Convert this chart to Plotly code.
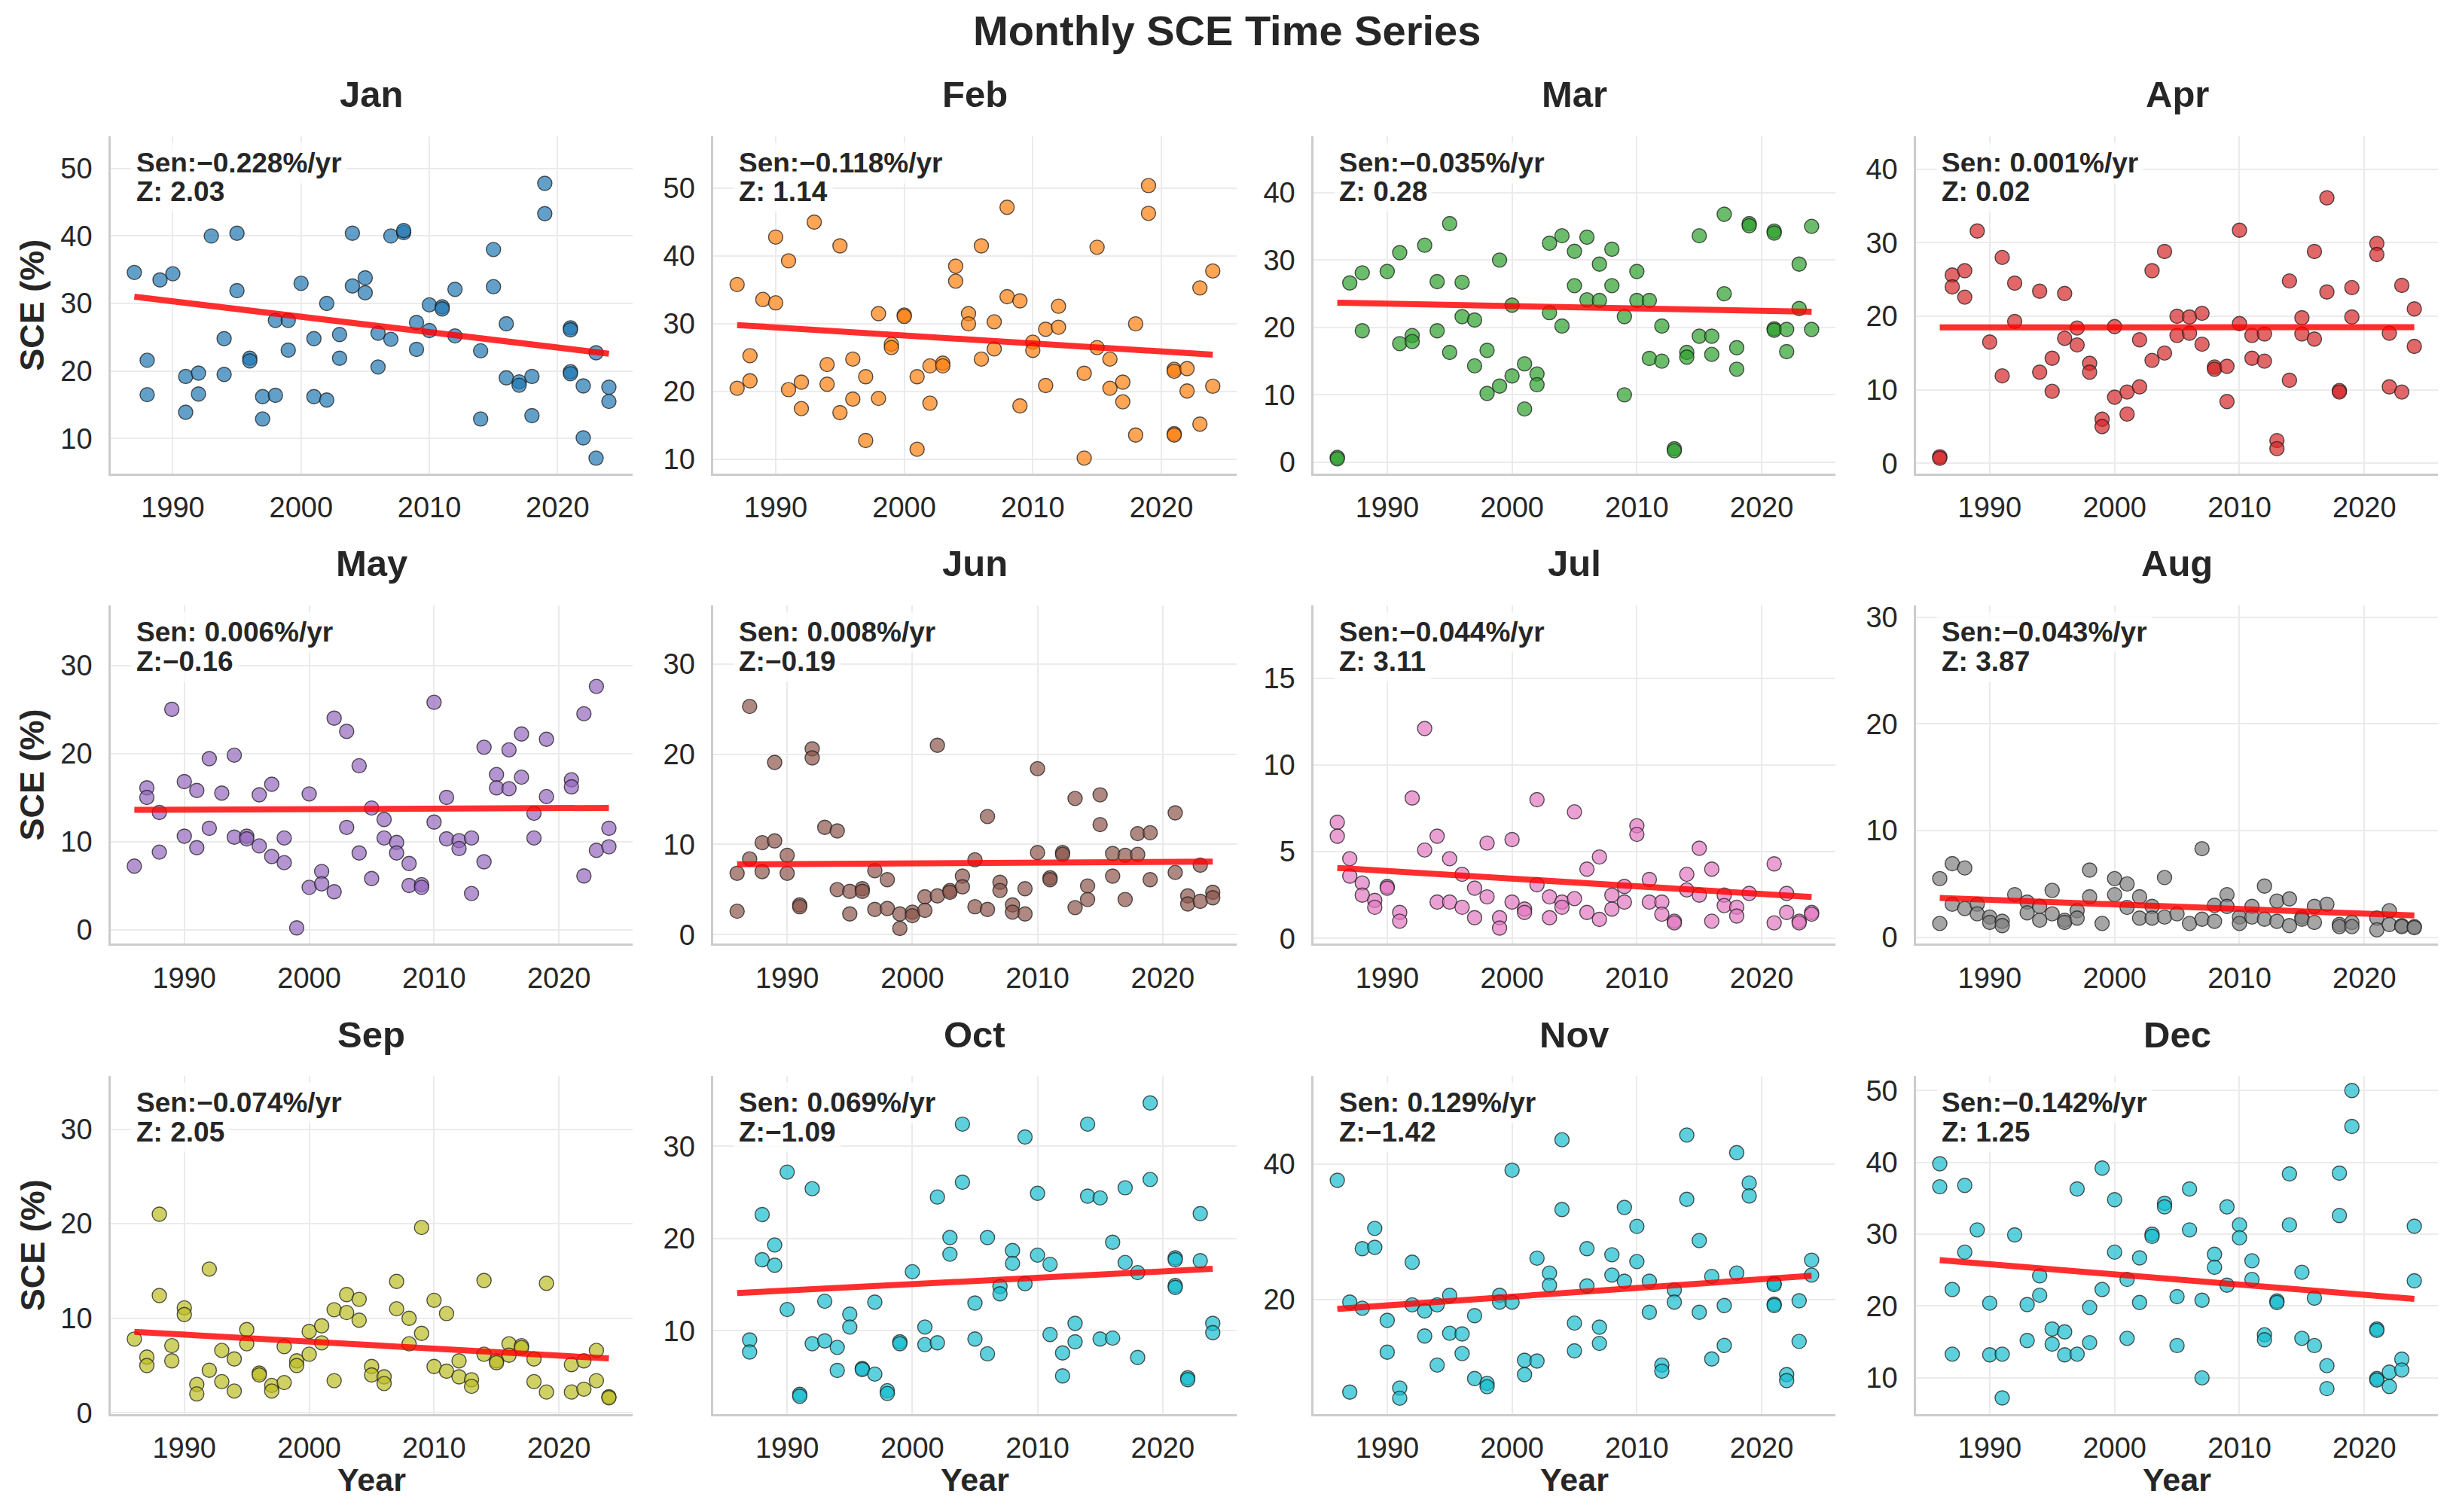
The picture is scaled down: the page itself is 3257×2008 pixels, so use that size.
import numpy as np
import plotly.graph_objects as go

# monthly snow cover extent (%), (year, value) pairs
JAN = [(1987, 34.6), (1988, 21.6), (1988, 16.5), (1989, 33.5), (1990, 34.4),
       (1991, 19.2), (1991, 13.9), (1992, 19.7), (1992, 16.6), (1993, 40.0), (1994, 24.8), (1994, 19.5),
       (1995, 40.4), (1995, 31.9), (1996, 21.9), (1996, 21.5), (1997, 16.2), (1997, 12.9), (1998, 27.5), (1998, 16.4),
       (1999, 27.5), (1999, 23.1), (2000, 33.0), (2001, 24.8), (2001, 16.2), (2002, 30.0), (2002, 15.7), (2003, 25.4),
       (2003, 21.9), (2004, 40.4), (2004, 32.6), (2005, 33.8), (2005, 31.6), (2006, 25.6), (2006, 20.6), (2007, 40.0),
       (2007, 24.7), (2008, 40.5), (2008, 40.8), (2009, 27.2), (2009, 23.2), (2010, 29.8), (2010, 26.0), (2011, 29.5),
       (2011, 29.2), (2012, 32.1), (2012, 25.2), (2014, 23.0), (2014, 12.9), (2015, 38.0), (2015, 32.5), (2016, 27.0),
       (2016, 19.0), (2017, 18.4), (2017, 17.9), (2018, 19.2), (2018, 13.4), (2019, 47.8), (2019, 43.3), (2021, 26.4),
       (2021, 26.1), (2021, 19.9), (2021, 19.6), (2022, 17.8), (2022, 10.1), (2023, 22.7), (2023, 7.1), (2024, 17.6),
       (2024, 15.5)]
FEB = [(1987, 35.8), (1987, 20.5), (1988, 25.3), (1988, 21.6), (1989, 33.6), (1990, 42.8), (1990, 33.1),
       (1991, 39.3), (1991, 20.3), (1992, 21.4), (1992, 17.5), (1993, 45.0), (1994, 24.0), (1994, 21.1), (1995, 41.5),
       (1995, 16.9), (1996, 24.8), (1996, 18.9), (1997, 22.2), (1997, 12.8), (1998, 31.5), (1998, 19.0), (1999, 27.0),
       (1999, 26.5), (2000, 31.3), (2000, 31.1), (2001, 22.2), (2001, 11.5), (2002, 23.8), (2002, 18.3), (2003, 24.2),
       (2003, 23.8), (2004, 38.5), (2004, 36.3), (2005, 31.5), (2005, 30.0), (2006, 41.5), (2006, 24.8), (2007, 30.3),
       (2007, 26.3), (2008, 47.2), (2008, 34.0), (2009, 33.4), (2009, 17.9), (2010, 27.3), (2010, 26.1), (2011, 29.2),
       (2011, 20.9), (2012, 32.6), (2012, 29.5), (2014, 22.7), (2014, 10.2), (2015, 41.3), (2015, 26.5), (2016, 24.8),
       (2016, 20.5), (2017, 21.4), (2017, 18.5), (2018, 30.0), (2018, 13.6), (2019, 50.4), (2019, 46.3), (2021, 23.3),
       (2021, 23.0), (2021, 13.8), (2021, 13.6), (2022, 23.4), (2022, 20.1), (2023, 35.3), (2023, 15.2), (2024, 37.8),
       (2024, 20.8)]
MAR = [(1986, 0.7), (1986, 0.5), (1987, 26.6), (1988, 28.1), (1988, 19.5), (1990, 28.3), (1991, 31.1),
       (1991, 17.6), (1992, 18.8), (1992, 17.9), (1993, 32.2), (1994, 26.8), (1994, 19.5), (1995, 35.4), (1995, 16.3),
       (1996, 26.7), (1996, 21.6), (1997, 21.1), (1997, 14.3), (1998, 16.6), (1998, 10.2), (1999, 30.0), (1999, 11.3),
       (2000, 23.3), (2000, 12.8), (2001, 14.6), (2001, 7.9), (2002, 13.1), (2002, 11.5), (2003, 32.5), (2003, 22.2),
       (2004, 33.6), (2004, 20.2), (2005, 31.3), (2005, 26.2), (2006, 33.4), (2006, 24.1), (2007, 29.4), (2007, 24.0),
       (2008, 31.6), (2008, 26.2), (2009, 21.6), (2009, 10.0), (2010, 28.3), (2010, 24.0), (2011, 24.0), (2011, 15.4),
       (2012, 20.2), (2012, 15.0), (2013, 2.0), (2013, 1.7), (2014, 16.3), (2014, 15.6), (2015, 33.6), (2015, 18.7),
       (2016, 18.7), (2016, 16.0), (2017, 36.8), (2017, 25.0), (2018, 17.0), (2018, 13.8), (2019, 35.4), (2019, 35.1),
       (2021, 34.3), (2021, 34.0), (2021, 19.8), (2021, 19.6), (2022, 19.7), (2022, 16.4), (2023, 29.4), (2023, 22.8),
       (2024, 35.0), (2024, 19.7)]
APR = [(1986, 0.9), (1986, 0.7), (1987, 25.6), (1987, 24.0), (1988, 26.2), (1988, 22.6), (1989, 31.6),
       (1990, 16.5), (1991, 28.0), (1991, 11.9), (1992, 24.5), (1992, 19.3), (1994, 23.4), (1994, 12.4),
       (1995, 14.3), (1995, 9.8), (1996, 23.1), (1996, 17.0), (1997, 18.4), (1997, 16.1), (1998, 13.6), (1998, 12.4),
       (1999, 6.0), (1999, 5.0), (2000, 18.6), (2000, 9.0), (2001, 9.7), (2001, 6.7), (2002, 16.8), (2002, 10.4),
       (2003, 26.2), (2003, 14.0), (2004, 28.8), (2004, 15.0), (2005, 20.0), (2005, 17.4), (2006, 19.9), (2006, 17.7),
       (2007, 20.4), (2007, 16.2), (2008, 13.1), (2008, 12.8), (2009, 13.2), (2009, 8.4), (2010, 31.7), (2010, 19.0),
       (2011, 17.4), (2011, 14.3), (2012, 17.6), (2012, 13.9), (2013, 3.1), (2013, 2.0), (2014, 24.8), (2014, 11.3),
       (2015, 19.8), (2015, 17.6), (2016, 28.8), (2016, 16.9), (2017, 36.1), (2017, 23.3), (2018, 9.9), (2018, 9.7),
       (2019, 23.9), (2019, 19.9), (2021, 29.9), (2021, 28.4), (2022, 17.7), (2022, 10.4), (2023, 24.2), (2023, 9.7),
       (2024, 21.0), (2024, 15.9)]
MAY = [(1986, 7.2), (1987, 16.1), (1987, 15.0), (1988, 13.3), (1988, 8.8), (1989, 25.0), (1990, 16.8), (1990, 10.6),
       (1991, 15.8), (1991, 9.3), (1992, 19.4), (1992, 11.5), (1993, 15.5), (1994, 19.8), (1994, 10.5),
       (1995, 10.6), (1995, 10.3), (1996, 15.3), (1996, 9.5), (1997, 16.5), (1997, 8.3), (1998, 10.4), (1998, 7.6),
       (1999, 0.2), (2000, 15.4), (2000, 4.8), (2001, 6.6), (2001, 5.2), (2002, 24.0), (2002, 4.3), (2003, 22.5),
       (2003, 11.6), (2004, 18.6), (2004, 8.7), (2005, 13.8), (2005, 5.8), (2006, 12.5), (2006, 10.4), (2007, 9.9),
       (2007, 8.7), (2008, 7.5), (2008, 5.0), (2009, 5.1), (2009, 4.8), (2010, 25.8), (2010, 12.2), (2011, 15.0),
       (2011, 10.3), (2012, 10.1), (2012, 9.2), (2013, 10.4), (2013, 4.1), (2014, 20.7), (2014, 7.7), (2015, 17.6),
       (2015, 16.1), (2016, 20.4), (2016, 16.0), (2017, 22.2), (2017, 17.3), (2018, 13.2), (2018, 10.4), (2019, 21.6),
       (2019, 15.1), (2021, 17.0), (2021, 16.2), (2022, 24.5), (2022, 6.1), (2023, 27.6), (2023, 9.0), (2024, 11.5),
       (2024, 9.4)]
JUN = [(1986, 6.8), (1986, 2.6), (1987, 25.3), (1987, 8.4), (1988, 10.2), (1988, 7.0), (1989, 19.1), (1989, 10.4),
       (1990, 8.8), (1990, 6.8), (1991, 3.3), (1991, 3.1), (1992, 20.6), (1992, 19.6), (1993, 11.9),
       (1994, 11.5), (1994, 5.0), (1995, 4.8), (1995, 2.3), (1996, 5.1), (1996, 4.8), (1997, 7.1), (1997, 2.8),
       (1998, 6.1), (1998, 2.9), (1999, 2.3), (1999, 0.7), (2000, 2.5), (2000, 2.1), (2001, 4.2), (2001, 2.7),
       (2002, 21.0), (2002, 4.3), (2003, 4.9), (2003, 4.7), (2004, 6.5), (2004, 5.3), (2005, 8.3), (2005, 3.1),
       (2006, 13.1), (2006, 2.8), (2007, 5.8), (2007, 4.9), (2008, 3.3), (2008, 2.5), (2009, 5.1), (2009, 2.3),
       (2010, 18.4), (2010, 9.1), (2011, 6.3), (2011, 6.1), (2012, 9.1), (2012, 8.9), (2013, 15.1), (2013, 3.0),
       (2014, 5.4), (2014, 3.9), (2015, 15.5), (2015, 12.2), (2016, 9.0), (2016, 6.5), (2017, 8.8), (2017, 3.9),
       (2018, 11.2), (2018, 8.9), (2019, 11.3), (2019, 6.1), (2021, 13.5), (2021, 6.9), (2022, 4.3), (2022, 3.4),
       (2023, 7.7), (2023, 3.7), (2024, 4.7), (2024, 4.1)]
JUL = [(1986, 6.7), (1986, 5.9), (1987, 4.6), (1987, 3.6), (1988, 3.2), (1988, 2.5), (1989, 2.2), (1989, 1.8),
       (1990, 3.0), (1990, 2.9), (1991, 1.5), (1991, 1.0), (1992, 8.1), (1993, 12.1), (1993, 5.1),
       (1994, 5.9), (1994, 2.1), (1995, 4.6), (1995, 2.1), (1996, 3.7), (1996, 1.8), (1997, 2.9), (1997, 1.2),
       (1998, 5.5), (1998, 2.4), (1999, 1.2), (1999, 0.6), (2000, 5.7), (2000, 2.1), (2001, 1.7), (2001, 1.5),
       (2002, 8.0), (2002, 3.1), (2003, 2.4), (2003, 1.2), (2004, 2.1), (2004, 1.8), (2005, 7.3), (2005, 2.3),
       (2006, 4.0), (2006, 1.5), (2007, 4.7), (2007, 1.1), (2008, 2.5), (2008, 1.7), (2009, 3.0), (2009, 2.1),
       (2010, 6.5), (2010, 6.0), (2011, 3.4), (2011, 2.1), (2012, 2.1), (2012, 1.4), (2013, 1.0), (2013, 0.9),
       (2014, 3.7), (2014, 2.8), (2015, 5.2), (2015, 2.5), (2016, 4.0), (2016, 1.0), (2017, 2.5), (2017, 1.9),
       (2018, 1.8), (2018, 1.3), (2019, 2.6), (2021, 4.3), (2021, 0.9), (2022, 2.6), (2022, 1.5), (2023, 1.0),
       (2023, 0.9), (2024, 1.5), (2024, 1.4)]
AUG = [(1986, 5.5), (1986, 1.3), (1987, 6.9), (1987, 3.1), (1988, 6.5), (1988, 2.7), (1989, 3.1), (1989, 2.2),
       (1990, 1.9), (1990, 1.4), (1991, 1.5), (1991, 1.1), (1992, 4.0), (1993, 3.3), (1993, 2.3),
       (1994, 2.9), (1994, 1.6), (1995, 4.4), (1995, 2.2), (1996, 1.6), (1996, 1.4), (1997, 2.5), (1997, 1.8),
       (1998, 6.3), (1998, 3.8), (1999, 1.3), (2000, 5.5), (2000, 4.0), (2001, 5.0), (2001, 2.8), (2002, 3.8),
       (2002, 1.8), (2003, 2.9), (2003, 1.8), (2004, 5.6), (2004, 1.9), (2005, 2.2), (2006, 1.3), (2007, 8.3),
       (2007, 1.7), (2008, 3.0), (2008, 1.5), (2009, 4.0), (2009, 2.9), (2010, 1.9), (2010, 1.3), (2011, 2.9),
       (2011, 1.9), (2012, 4.8), (2012, 1.7), (2013, 3.4), (2013, 1.5), (2014, 3.6), (2014, 1.1), (2015, 1.9),
       (2015, 1.7), (2016, 2.9), (2016, 1.4), (2017, 3.1), (2018, 1.2), (2018, 1.0), (2019, 1.4), (2019, 1.0),
       (2021, 1.8), (2021, 0.7), (2022, 2.5), (2022, 1.2), (2023, 1.1), (2023, 1.0), (2024, 1.0), (2024, 0.9)]
SEP = [(1986, 7.8), (1987, 5.9), (1987, 5.0), (1988, 21.0), (1988, 12.4), (1989, 7.1), (1989, 5.5), (1990, 11.1),
       (1990, 10.4), (1991, 3.0), (1991, 2.0), (1992, 15.2), (1992, 4.5), (1993, 6.6), (1993, 3.3), (1994, 5.7),
       (1994, 2.3), (1995, 8.8), (1995, 7.3), (1996, 4.2), (1996, 4.0), (1997, 2.9), (1997, 2.3), (1998, 7.0),
       (1998, 3.2), (1999, 5.5), (1999, 5.0), (2000, 8.6), (2000, 6.2), (2001, 9.2), (2001, 7.4), (2002, 10.9),
       (2002, 3.4), (2003, 12.5), (2003, 10.6), (2004, 12.0), (2004, 9.8), (2005, 4.9), (2005, 4.0), (2006, 3.8),
       (2006, 3.1), (2007, 13.9), (2007, 11.0), (2008, 10.0), (2008, 7.3), (2009, 19.6), (2009, 8.4), (2010, 11.9),
       (2010, 4.9), (2011, 10.5), (2011, 4.4), (2012, 5.5), (2012, 3.8), (2013, 3.5), (2013, 2.8), (2014, 14.0),
       (2014, 6.2), (2015, 5.5), (2015, 5.3), (2016, 7.3), (2016, 6.1), (2017, 7.1), (2017, 6.9), (2018, 5.7),
       (2018, 3.3), (2019, 13.7), (2019, 2.2), (2021, 5.1), (2021, 2.2), (2022, 5.5), (2022, 2.5), (2023, 6.6),
       (2023, 3.4), (2024, 1.7), (2024, 1.6)]
OCT = [(1987, 9.0), (1987, 7.7), (1988, 22.6), (1988, 17.7), (1989, 19.3), (1989, 17.1), (1990, 27.2),
       (1990, 12.3), (1991, 3.1), (1991, 2.9), (1992, 25.4), (1992, 8.6), (1993, 13.2), (1993, 8.9), (1994, 8.2),
       (1994, 5.7), (1995, 11.8), (1995, 10.4), (1996, 5.9), (1996, 5.8), (1997, 13.1), (1997, 5.3), (1998, 3.5),
       (1998, 3.2), (1999, 8.8), (1999, 8.6), (2000, 16.4), (2001, 10.4), (2001, 8.5), (2002, 24.5), (2002, 8.7),
       (2003, 20.1), (2003, 18.3), (2004, 32.4), (2004, 26.1), (2005, 13.0), (2005, 9.1), (2006, 20.1), (2006, 7.5),
       (2007, 14.8), (2007, 14.0), (2008, 18.7), (2008, 17.3), (2009, 31.0), (2009, 15.1), (2010, 24.9), (2010, 18.2),
       (2011, 17.2), (2011, 9.6), (2012, 7.6), (2012, 5.1), (2013, 10.8), (2013, 8.8), (2014, 32.4), (2014, 24.6),
       (2015, 24.4), (2015, 9.1), (2016, 19.6), (2016, 9.2), (2017, 25.5), (2017, 17.4), (2018, 16.3), (2018, 7.1),
       (2019, 34.7), (2019, 26.4), (2021, 17.9), (2021, 17.7), (2021, 14.9), (2021, 14.7), (2022, 4.9), (2022, 4.7),
       (2023, 22.7), (2023, 17.6), (2024, 10.8), (2024, 9.8)]
NOV = [(1986, 37.6), (1987, 19.6), (1987, 6.3), (1988, 27.5), (1988, 18.7), (1989, 30.5), (1989, 27.7), (1990, 16.9),
       (1990, 12.2), (1991, 6.9), (1991, 5.4), (1992, 25.5), (1992, 19.2), (1993, 18.3), (1993, 14.6), (1994, 19.2),
       (1994, 10.3), (1995, 20.6), (1995, 15.0), (1996, 14.9), (1996, 12.0), (1997, 17.6), (1997, 8.3), (1998, 7.6),
       (1998, 7.1), (1999, 20.6), (1999, 19.6), (2000, 39.1), (2000, 19.6), (2001, 11.0), (2001, 8.9), (2002, 26.1),
       (2002, 10.9), (2003, 23.9), (2003, 22.1), (2004, 43.6), (2004, 33.3), (2005, 16.5), (2005, 12.4), (2006, 27.5),
       (2006, 22.0), (2007, 15.9), (2007, 13.5), (2008, 26.6), (2008, 23.6), (2009, 33.6), (2009, 22.7), (2010, 30.8),
       (2010, 25.6), (2011, 22.7), (2011, 18.1), (2012, 10.3), (2012, 9.4), (2013, 21.4), (2013, 19.6), (2014, 44.3),
       (2014, 34.8), (2015, 28.7), (2015, 18.1), (2016, 23.4), (2016, 11.2), (2017, 19.1), (2017, 13.2), (2018, 41.7),
       (2018, 23.9), (2019, 37.2), (2019, 35.3), (2021, 22.4), (2021, 22.2), (2021, 19.3), (2021, 19.1), (2022, 8.9),
       (2022, 8.0), (2023, 19.8), (2023, 13.8), (2024, 25.8), (2024, 23.6)]
DEC = [(1986, 39.8), (1986, 36.6), (1987, 22.3), (1987, 13.3), (1988, 36.8), (1988, 27.5), (1989, 30.6), (1990, 20.4),
       (1990, 13.2), (1991, 13.3), (1991, 7.2), (1992, 29.9), (1993, 20.2), (1993, 15.2), (1994, 24.2), (1994, 21.5),
       (1995, 16.8), (1995, 14.7), (1996, 16.4), (1996, 13.2), (1997, 36.3), (1997, 13.3), (1998, 19.8), (1998, 14.9),
       (1999, 39.2), (1999, 22.3), (2000, 34.8), (2000, 27.5), (2001, 23.7), (2001, 15.5), (2002, 26.7), (2002, 20.5),
       (2003, 30.0), (2003, 29.7), (2004, 34.3), (2004, 33.8), (2005, 21.3), (2005, 14.5), (2006, 36.3), (2006, 30.6),
       (2007, 20.8), (2007, 10.0), (2008, 27.2), (2008, 25.4), (2009, 33.8), (2009, 22.9), (2010, 31.3), (2010, 29.5),
       (2011, 26.3), (2011, 23.7), (2012, 16.0), (2012, 15.3), (2013, 20.7), (2013, 20.5), (2014, 38.4), (2014, 31.3),
       (2015, 24.7), (2015, 15.5), (2016, 21.1), (2016, 14.5), (2017, 11.7), (2017, 8.5), (2018, 38.5), (2018, 32.6),
       (2019, 50.0), (2019, 45.0), (2021, 16.8), (2021, 16.6), (2021, 9.9), (2021, 9.7), (2022, 10.8), (2022, 8.8),
       (2023, 12.6), (2023, 11.1), (2024, 31.1), (2024, 23.5)]

MONTHS = ["Jan", "Feb", "Mar", "Apr", "May", "Jun", "Jul", "Aug", "Sep", "Oct", "Nov", "Dec"]
SEN_SLOPE = [-0.228, -0.118, -0.035, 0.001, 0.006, 0.008, -0.044, -0.043, -0.074, 0.069, 0.129, -0.142]
MK_Z = [2.03, 1.14, 0.28, 0.02, -0.16, -0.19, 3.11, 3.87, 2.05, -1.09, -1.42, 1.25]
# level of the Sen trend line in 2005, as drawn in the figure
SEN_AT_2005 = [26.9, 27.7, 23.0, 18.5, 13.7, 7.95, 3.23, 2.87, 7.16, 15.4, 21.05, 23.7]
FIRST_YEAR = [1987, 1987, 1986, 1986, 1986, 1986, 1986, 1986, 1986, 1986, 1986, 1986]
LAST_YEAR = 2024

COLORS = ["#1f77b4", "#ff7f0e", "#2ca02c", "#d62728", "#9467bd", "#8c564b",
          "#e377c2", "#7f7f7f", "#bcbd22", "#17becf", "#17becf", "#17becf"]

# axis ranges as shown in the figure
Y_RANGES = [[4.8, 54.8], [7.9, 57.7], [-1.7, 48.4], [-1.4, 44.5], [-1.6, 36.8], [-1.0, 36.5],
            [-0.3, 19.2], [-0.6, 31.1], [-0.1, 35.6], [1.0, 37.6], [3.1, 53.0], [5.0, 52.0]]
Y_DTICK = [10, 10, 10, 10, 10, 10, 5, 10, 10, 10, 20, 10]

X_DOMAINS = [[0.0451, 0.2579], [0.2908, 0.5041], [0.5355, 0.7482], [0.7811, 0.9939]]
Y_DOMAINS = [[0.6853, 0.9114], [0.3705, 0.5971], [0.0557, 0.2818]]

FONT = "Liberation Sans, Arial, sans-serif"
TXT = "#262626"


def hex_rgba(h, a):
    h = h.lstrip("#")
    return "rgba({},{},{},{})".format(int(h[0:2], 16), int(h[2:4], 16), int(h[4:6], 16), a)


def signed(v, nd):
    return "{: .{}f}".format(v, nd).replace("-", "\u2212")


def main():
    series = [JAN, FEB, MAR, APR, MAY, JUN, JUL, AUG, SEP, OCT, NOV, DEC]

    fig = go.Figure()
    layout = dict(width=3257, height=2008, margin=dict(l=0, r=0, t=0, b=0),
                  paper_bgcolor="white", plot_bgcolor="white", showlegend=False,
                  font=dict(family=FONT, color=TXT))
    annotations = []

    for i, data in enumerate(series):
        r, c = divmod(i, 4)
        n = i + 1
        xa = "x" if n == 1 else "x{}".format(n)
        ya = "y" if n == 1 else "y{}".format(n)

        yrs = [d[0] for d in data]
        sce = [d[1] for d in data]

        fig.add_trace(go.Scatter(
            x=yrs, y=sce, mode="markers", xaxis=xa, yaxis=ya,
            marker=dict(size=19, color=hex_rgba(COLORS[i], 0.7),
                        line=dict(color="rgba(30,30,30,0.75)", width=1.4))))

        # Sen's slope trend line
        slope = SEN_SLOPE[i]
        tx = np.array([FIRST_YEAR[i], LAST_YEAR], dtype=float)
        fig.add_trace(go.Scatter(
            x=tx, y=SEN_AT_2005[i] + slope * (tx - 2005), mode="lines", xaxis=xa, yaxis=ya,
            line=dict(color="rgba(255,0,0,0.82)", width=8)))

        span = LAST_YEAR - FIRST_YEAR[i]
        axis_common = dict(showgrid=True, gridcolor="#ebebeb", gridwidth=1.5,
                           showline=True, linecolor="#cccccc", linewidth=2.5,
                           zeroline=False, ticks="", tickfont=dict(size=38, color=TXT))
        layout["xaxis" if n == 1 else "xaxis{}".format(n)] = dict(
            domain=X_DOMAINS[c], anchor=ya,
            range=[FIRST_YEAR[i] - 0.05 * span, LAST_YEAR + 0.05 * span],
            tickmode="linear", tick0=1990, dtick=10, ticklabelstandoff=10, **axis_common)
        layout["yaxis" if n == 1 else "yaxis{}".format(n)] = dict(
            domain=Y_DOMAINS[r], anchor=xa, range=Y_RANGES[i],
            tickmode="linear", tick0=0, dtick=Y_DTICK[i], ticklabelstandoff=14, **axis_common)

        # panel title
        annotations.append(dict(
            text="<b>{}</b>".format(MONTHS[i]), xref=xa + " domain", yref=ya + " domain",
            x=0.5, y=1.124, xanchor="center", yanchor="middle", showarrow=False,
            font=dict(size=49, color=TXT, family=FONT)))
        # trend stats, one line each so the spacing stays tight
        stat_lines = ["<b>Sen:{}%/yr</b>".format(signed(slope, 3)),
                      "<b>Z:{}</b>".format(signed(MK_Z[i], 2))]
        for k, txt in enumerate(stat_lines):
            annotations.append(dict(
                text=txt, xref=xa + " domain", yref=ya + " domain", x=0.039,
                y=0.921 - 0.086 * k, xanchor="left", yanchor="middle", align="left",
                showarrow=False, bgcolor="rgba(255,255,255,0.8)", borderpad=6,
                font=dict(size=37, color=TXT, family=FONT)))

    for r in range(3):
        annotations.append(dict(
            text="<b>SCE (%)</b>", xref="paper", yref="paper", x=0.0132,
            y=sum(Y_DOMAINS[r]) / 2, textangle=-90, xanchor="center", yanchor="middle",
            showarrow=False, font=dict(size=45, color=TXT, family=FONT)))
    for c in range(4):
        annotations.append(dict(
            text="<b>Year</b>", xref="paper", yref="paper", x=sum(X_DOMAINS[c]) / 2,
            y=0.0115, xanchor="center", yanchor="middle", showarrow=False,
            font=dict(size=43, color=TXT, family=FONT)))

    annotations.append(dict(
        text="<b>Monthly SCE Time Series</b>", xref="paper", yref="paper", x=0.5, y=0.982,
        xanchor="center", yanchor="middle", showarrow=False,
        font=dict(size=56, color=TXT, family=FONT)))

    layout["annotations"] = annotations
    fig.update_layout(**layout)
    fig.write_html("out.html", config={"displayModeBar": False},
                   post_script="document.body.style.margin='0px';")


if __name__ == "__main__":
    main()
